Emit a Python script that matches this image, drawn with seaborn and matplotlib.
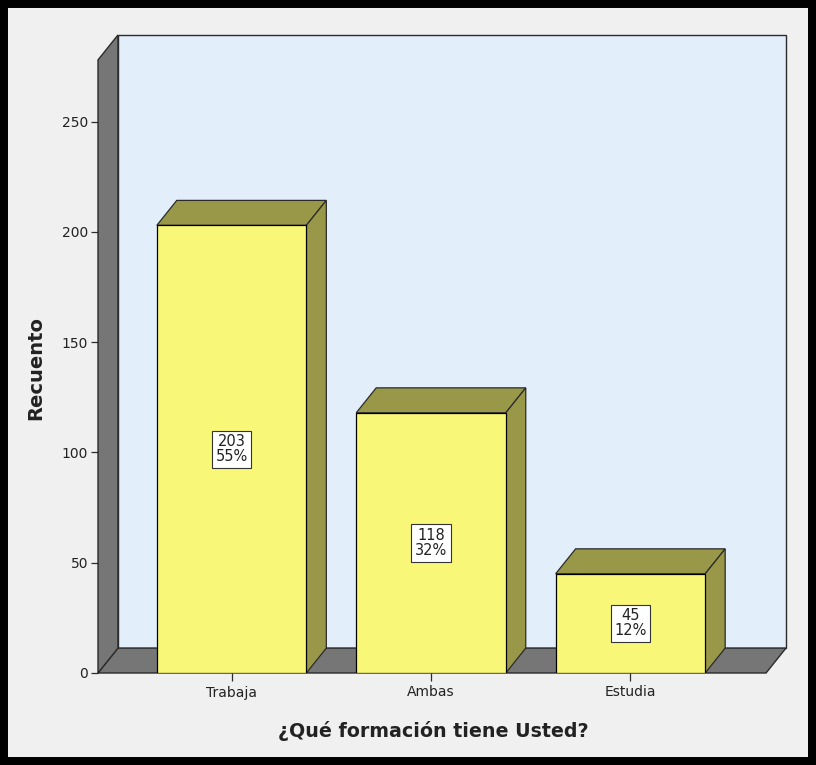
import matplotlib
matplotlib.use("Agg")
import matplotlib.pyplot as plt
from matplotlib.patches import Polygon, Rectangle
import seaborn as sns
import pandas as pd

# Survey counts per answer
categories = ["Trabaja", "Ambas", "Estudia"]
counts = [203, 118, 45]
percents = ["55%", "32%", "12%"]
y_ticks = [0, 50, 100, 150, 200, 250]

# Colours
BG = "#F0F0F0"
WALL_BACK = "#E2EEFA"
WALL_GREY = "#767676"
BAR_FRONT = "#F9F777"
BAR_SHADE = "#999748"
EDGE = "#2B2B2B"
TXT = "#222222"

# Pseudo-3D geometry (data units)
X_LEFT, X_RIGHT = -0.67, 2.68
DX, DY = 0.1, 11.3
Y_TOP = 278.0
BAR_W = 0.75

df = pd.DataFrame({"formacion": categories, "recuento": counts})

fig = plt.figure(figsize=(8.16, 7.65), dpi=100, facecolor=BG)
ax = fig.add_axes([98 / 816, (765 - 673) / 765, 688 / 816, 638 / 765])
ax.set_facecolor("none")

# Walls and floor
back = Polygon([(X_LEFT + DX, DY), (X_RIGHT + DX, DY), (X_RIGHT + DX, Y_TOP + DY),
                (X_LEFT + DX, Y_TOP + DY)], closed=True, facecolor=WALL_BACK,
               edgecolor=EDGE, lw=1.0, zorder=0.5)
floor = Polygon([(X_LEFT, 0), (X_RIGHT, 0), (X_RIGHT + DX, DY), (X_LEFT + DX, DY)],
                closed=True, facecolor=WALL_GREY, edgecolor=EDGE, lw=1.0, zorder=0.6)
side = Polygon([(X_LEFT, 0), (X_LEFT, Y_TOP), (X_LEFT + DX, Y_TOP + DY), (X_LEFT + DX, DY)],
               closed=True, facecolor=WALL_GREY, edgecolor=EDGE, lw=1.0, zorder=0.7)
for p in (back, floor, side):
    p.set_clip_on(False)
    ax.add_patch(p)

# Front faces of the bars
sns.barplot(data=df, x="formacion", y="recuento", order=categories, color=BAR_FRONT,
            saturation=1, width=BAR_W, edgecolor="black", linewidth=0.9, zorder=3, ax=ax)

# Top and side faces, plus value labels
for i, (v, pct) in enumerate(zip(counts, percents)):
    x0, x1 = i - BAR_W / 2, i + BAR_W / 2
    top = Polygon([(x0, v), (x1, v), (x1 + DX, v + DY), (x0 + DX, v + DY)], closed=True,
                  facecolor=BAR_SHADE, edgecolor=EDGE, lw=0.9, zorder=2)
    rside = Polygon([(x1, 0), (x1, v), (x1 + DX, v + DY), (x1 + DX, DY)], closed=True,
                    facecolor=BAR_SHADE, edgecolor=EDGE, lw=0.9, zorder=2)
    ax.add_patch(top)
    ax.add_patch(rside)
    ax.text(i, v / 2, f"{v}\n{pct}", ha="center", va="center", fontsize=10.5, color=TXT,
            linespacing=1.0, zorder=5,
            bbox=dict(boxstyle="square,pad=0.25", facecolor="white", edgecolor="#333333", lw=0.8))

ax.set_xlim(X_LEFT, X_RIGHT + DX)
ax.set_ylim(0, Y_TOP + DY)
for s in ax.spines.values():
    s.set_visible(False)

ax.set_yticks(y_ticks)
ax.set_yticklabels([str(t) for t in y_ticks])
ax.tick_params(axis="y", direction="out", length=5, width=0.9, color=EDGE,
               labelsize=10, labelcolor=TXT, pad=2)
ax.set_xticks(range(len(categories)))
ax.set_xticklabels(categories)
ax.tick_params(axis="x", direction="out", length=6, width=0.9, color=EDGE,
               labelsize=10, labelcolor=TXT, pad=3)

ax.set_xlabel("¿Qué formación tiene Usted?", fontsize=13.7, fontweight="bold", color=TXT)
ax.set_ylabel("Recuento", fontsize=14, fontweight="bold", color=TXT)
ax.xaxis.set_label_coords((433 - 98) / 688, -(721 - 673) / 638)
ax.yaxis.set_label_coords(-(98 - 45) / 688, (673 - 368) / 638)

# Black frame around the whole figure
fig.patches.append(Rectangle((0, 0), 1, 1, transform=fig.transFigure, fill=False,
                             edgecolor="black", lw=11.5, zorder=10))

fig.savefig("out.png", dpi=100, facecolor=BG)
